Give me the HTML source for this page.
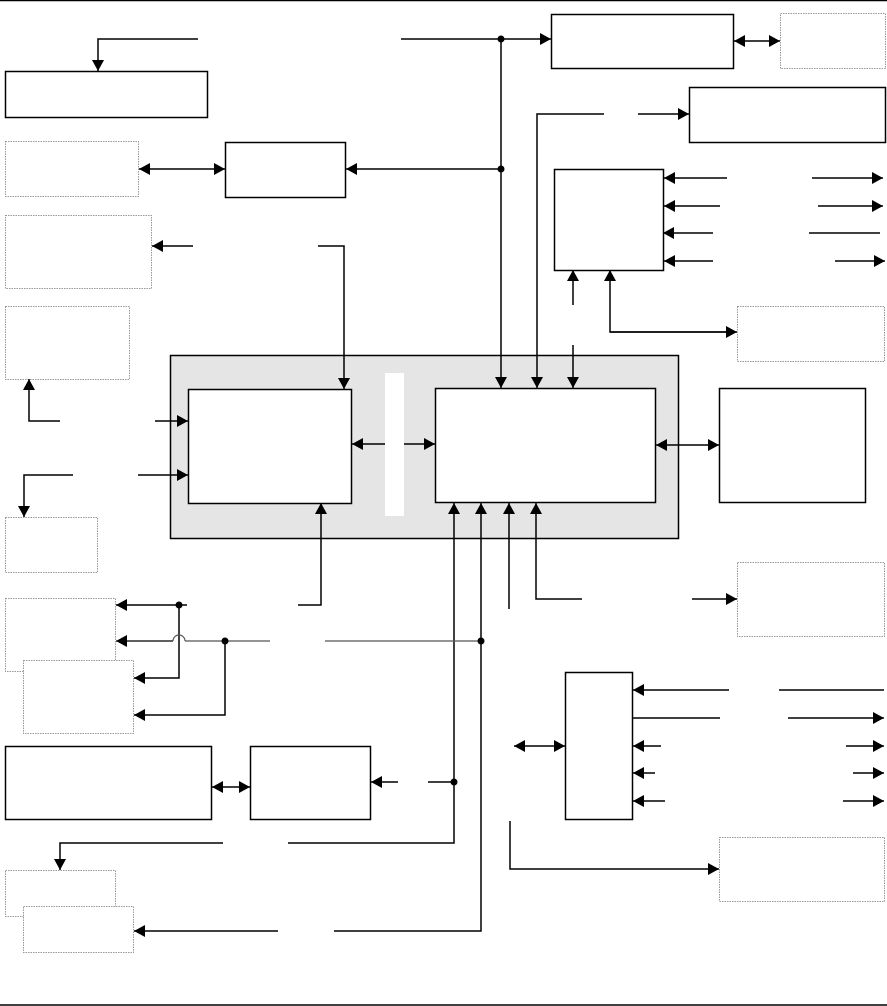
<!DOCTYPE html>
<html><head><meta charset="utf-8"><style>html,body{margin:0;padding:0;background:#fff}svg{display:block}</style></head>
<body>
<svg width="887" height="1006" viewBox="0 0 887 1006" xmlns="http://www.w3.org/2000/svg">
<defs>
<marker id="a" markerUnits="userSpaceOnUse" markerWidth="12" markerHeight="12" refX="11" refY="6" orient="auto"><path d="M0,0 L11,6 L0,12 z" fill="#000"/></marker>
<marker id="s" markerUnits="userSpaceOnUse" markerWidth="12" markerHeight="12" refX="11" refY="6" orient="auto-start-reverse"><path d="M0,0 L11,6 L0,12 z" fill="#000"/></marker>
</defs>
<line x1="0" y1="0.5" x2="887" y2="0.5" stroke="#000" stroke-width="1.5"/>
<line x1="0" y1="1005" x2="887" y2="1005" stroke="#000" stroke-width="1.5"/>
<g fill="#fff" stroke="#999" stroke-width="1" stroke-dasharray="1.5,1">
<rect x="780.5" y="13.5" width="105" height="55"/>
<rect x="5.5" y="141.5" width="133" height="55"/>
<rect x="5.5" y="215.5" width="146" height="73"/>
<rect x="5.5" y="306.5" width="124" height="73"/>
<rect x="5.5" y="517.5" width="92" height="55"/>
<rect x="737.5" y="306.5" width="147" height="55"/>
<rect x="737.5" y="562.5" width="147" height="74"/>
<rect x="5.5" y="598.5" width="110" height="73"/>
<rect x="23.5" y="660.5" width="110" height="73"/>
<rect x="719.5" y="837.5" width="165" height="64"/>
<rect x="5.5" y="870.5" width="110" height="46"/>
<rect x="23.5" y="906.5" width="110" height="46"/>
</g>
<rect x="170.5" y="355.5" width="508" height="183" fill="#e5e5e5" stroke="#000" stroke-width="1.5"/>
<rect x="385" y="373" width="19" height="143" fill="#fff"/>
<g fill="#fff" stroke="#000" stroke-width="1.5">
<rect x="5.5" y="71.5" width="202" height="46"/>
<rect x="225.5" y="142.5" width="120" height="55"/>
<rect x="551.5" y="14.5" width="182" height="54"/>
<rect x="689.5" y="87.5" width="196" height="55"/>
<rect x="554.5" y="169.5" width="109" height="101"/>
<rect x="188.5" y="389.5" width="163" height="114"/>
<rect x="435.5" y="388.5" width="220" height="114"/>
<rect x="719.5" y="388.5" width="146" height="114"/>
<rect x="5.5" y="746.5" width="206" height="73"/>
<rect x="250.5" y="746.5" width="120" height="73"/>
<rect x="565.5" y="672.5" width="67" height="147"/>
</g>
<g fill="none" stroke="#000" stroke-width="1.5">
<polyline points="198,39 98,39 98,71" marker-end="url(#a)"/>
<line x1="401" y1="39" x2="551" y2="39" marker-end="url(#a)"/>
<line x1="501" y1="39" x2="501" y2="388" marker-end="url(#a)"/>
<line x1="501" y1="169" x2="346" y2="169" marker-end="url(#a)"/>
<line x1="139" y1="169" x2="225" y2="169" marker-start="url(#s)" marker-end="url(#a)"/>
<line x1="734" y1="41" x2="780" y2="41" marker-start="url(#s)" marker-end="url(#a)"/>
<polyline points="604,114 537,114 537,388" marker-end="url(#a)"/>
<line x1="638" y1="114" x2="689" y2="114" marker-end="url(#a)"/>
<line x1="727" y1="178" x2="664" y2="178" marker-end="url(#a)"/>
<line x1="812" y1="178" x2="883" y2="178" marker-end="url(#a)"/>
<line x1="720" y1="206" x2="664" y2="206" marker-end="url(#a)"/>
<line x1="818" y1="206" x2="883" y2="206" marker-end="url(#a)"/>
<line x1="713" y1="233" x2="663" y2="233" marker-end="url(#a)"/>
<line x1="809" y1="233" x2="880" y2="233"/>
<line x1="713" y1="261" x2="664" y2="261" marker-end="url(#a)"/>
<line x1="835" y1="261" x2="885" y2="261" marker-end="url(#a)"/>
<line x1="573" y1="305" x2="573" y2="270" marker-end="url(#a)"/>
<line x1="573" y1="345" x2="573" y2="388" marker-end="url(#a)"/>
<polyline points="735,332 610,332 610,270" marker-end="url(#a)"/>
<line x1="610" y1="332" x2="737" y2="332" marker-end="url(#a)"/>
<line x1="193" y1="246" x2="152" y2="246" marker-end="url(#a)"/>
<polyline points="318,246 344,246 344,389" marker-end="url(#a)"/>
<polyline points="60,421 29,421 29,379" marker-end="url(#a)"/>
<line x1="155" y1="421" x2="188" y2="421" marker-end="url(#a)"/>
<polyline points="73,475 24,475 24,517" marker-end="url(#a)"/>
<line x1="138" y1="475" x2="188" y2="475" marker-end="url(#a)"/>
<line x1="352" y1="444" x2="385" y2="444" marker-start="url(#s)"/>
<line x1="404" y1="444" x2="435" y2="444" marker-end="url(#a)"/>
<line x1="656" y1="445" x2="719" y2="445" marker-start="url(#s)" marker-end="url(#a)"/>
<polyline points="288,843 454,843 454,503" marker-end="url(#a)"/>
<line x1="398" y1="782" x2="371" y2="782" marker-end="url(#a)"/>
<line x1="428" y1="782" x2="454" y2="782"/>
<polyline points="223,843 60,843 60,870" marker-end="url(#a)"/>
<polyline points="334,931 481,931 481,503" marker-end="url(#a)"/>
<line x1="278" y1="931" x2="134" y2="931" marker-end="url(#a)"/>
<line x1="509" y1="609" x2="509" y2="503" marker-end="url(#a)"/>
<polyline points="582,599 536,599 536,503" marker-end="url(#a)"/>
<line x1="692" y1="599" x2="737" y2="599" marker-end="url(#a)"/>
<polyline points="298,605 321,605 321,503" marker-end="url(#a)"/>
<line x1="187" y1="605" x2="116" y2="605" marker-end="url(#a)"/>
<polyline points="179,605 179,678 134,678" marker-end="url(#a)"/>
<polyline points="225,641 225,715 134,715" marker-end="url(#a)"/>
<line x1="212" y1="787" x2="250" y2="787" marker-start="url(#s)" marker-end="url(#a)"/>
<line x1="729" y1="690" x2="633" y2="690" marker-end="url(#a)"/>
<line x1="779" y1="690" x2="884" y2="690"/>
<line x1="632" y1="718" x2="720" y2="718"/>
<line x1="788" y1="718" x2="884" y2="718" marker-end="url(#a)"/>
<line x1="661" y1="746" x2="633" y2="746" marker-end="url(#a)"/>
<line x1="846" y1="746" x2="884" y2="746" marker-end="url(#a)"/>
<line x1="655" y1="773" x2="633" y2="773" marker-end="url(#a)"/>
<line x1="853" y1="773" x2="884" y2="773" marker-end="url(#a)"/>
<line x1="665" y1="801" x2="633" y2="801" marker-end="url(#a)"/>
<line x1="843" y1="801" x2="884" y2="801" marker-end="url(#a)"/>
<line x1="514" y1="746" x2="565" y2="746" marker-start="url(#s)" marker-end="url(#a)"/>
<polyline points="510,821 510,869 719,869" marker-end="url(#a)"/>
</g>
<g fill="none" stroke="#555" stroke-width="1.2">
<line x1="173" y1="641" x2="116" y2="641" stroke="#000" marker-end="url(#a)"/>
<path d="M173,641 A6,6 0 0 1 185,641"/>
<line x1="185" y1="641" x2="270" y2="641"/>
<line x1="325" y1="641" x2="481" y2="641"/>
</g>
<g fill="#000">
<circle cx="501" cy="39" r="3.5"/>
<circle cx="501" cy="169" r="3.5"/>
<circle cx="179" cy="605" r="3.5"/>
<circle cx="225" cy="641" r="3.5"/>
<circle cx="481" cy="641" r="3.5"/>
<circle cx="454" cy="782" r="3.5"/>
</g>
</svg>
</body></html>
